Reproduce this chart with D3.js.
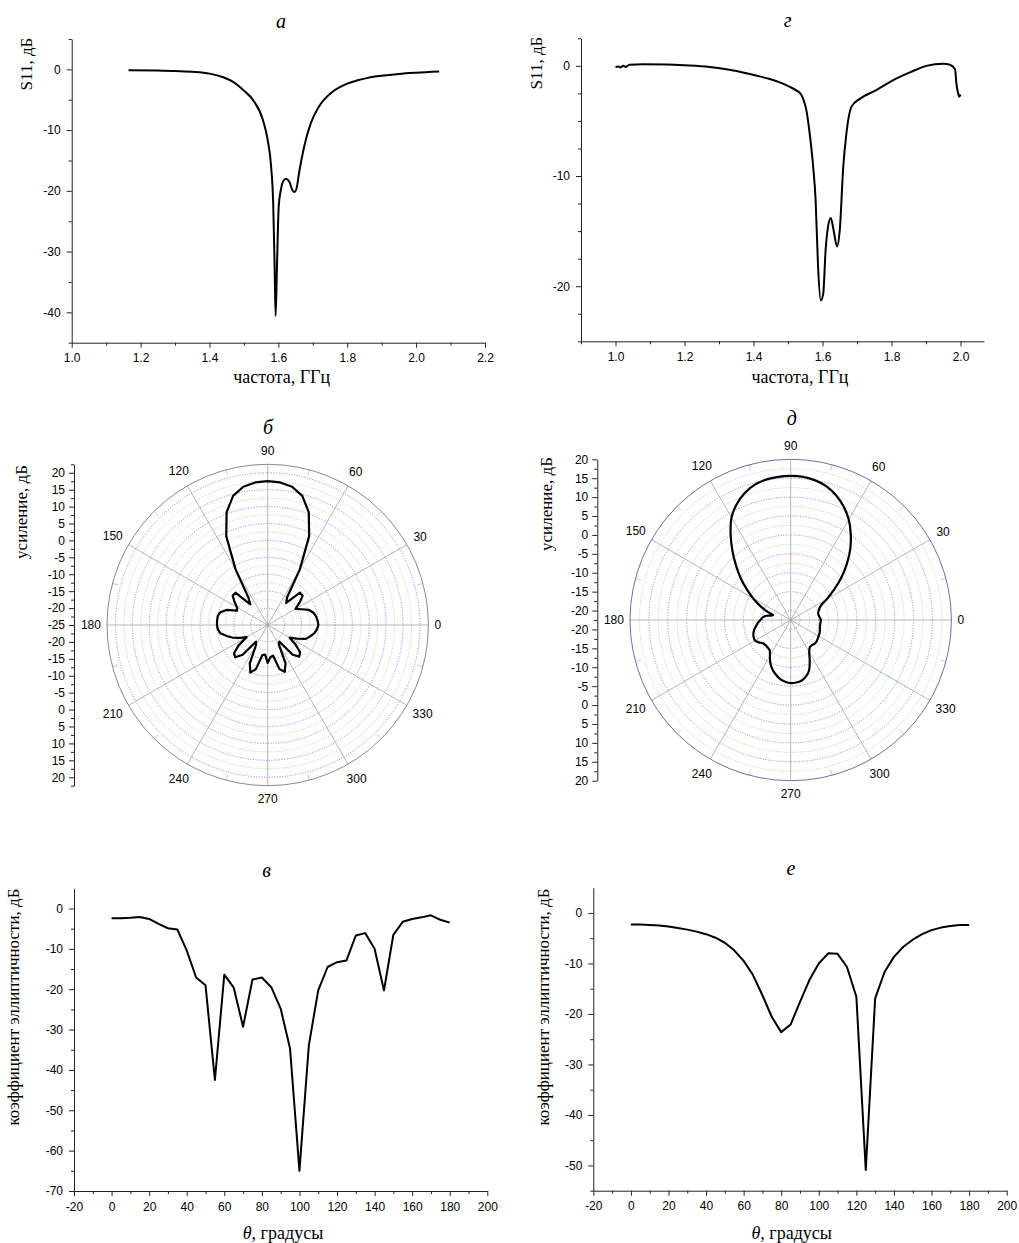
<!DOCTYPE html>
<html>
<head>
<meta charset="utf-8">
<script src="https://cdn.jsdelivr.net/npm/d3@7"></script>
<style>
  body { margin: 0; background: #fff; }
  svg { display: block; }
</style>
</head>
<body>
<script>
// а: S11 vs frequency (simulation)
const freqA = [1.165, 1.25, 1.3, 1.35, 1.4, 1.44, 1.47, 1.5, 1.526, 1.555, 1.569, 1.579, 1.585, 1.589, 1.592, 1.596, 1.601, 1.607, 1.614, 1.622, 1.632, 1.641, 1.647, 1.654, 1.66, 1.675, 1.694, 1.718, 1.757, 1.78, 1.8, 1.83, 1.86, 1.9, 1.95, 2.0, 2.067]
const s11A = [-0.15, -0.2, -0.25, -0.4, -0.7, -1.3, -2.1, -3.5, -5, -8.3, -11.6, -16, -22, -32, -40.6, -32.5, -22.6, -19.9, -18.4, -18.0, -18.5, -19.9, -20.2, -19.3, -17.1, -12.7, -8.9, -6.1, -3.7, -2.9, -2.35, -1.8, -1.4, -1.05, -0.75, -0.55, -0.35]

// г: S11 vs frequency (measured)
const freqG = [1.0, 1.008, 1.015, 1.022, 1.03, 1.04, 1.08, 1.15, 1.2, 1.273, 1.33, 1.369, 1.41, 1.447, 1.48, 1.505, 1.525, 1.538, 1.545, 1.553, 1.563, 1.573, 1.58, 1.587, 1.595, 1.602, 1.609, 1.616, 1.624, 1.632, 1.642, 1.65, 1.66, 1.669, 1.684, 1.708, 1.756, 1.805, 1.853, 1.901, 1.95, 1.969, 1.984, 1.988, 1.993, 1.996, 2.0]
const s11G = [-0.1, -0.05, -0.15, 0.0, -0.1, 0.1, 0.15, 0.12, 0.05, -0.1, -0.35, -0.6, -0.9, -1.2, -1.55, -1.9, -2.25, -2.6, -3.1, -4.0, -6.2, -9.2, -12.2, -18.2, -21.3, -20.7, -16.7, -14.6, -13.8, -14.9, -16.4, -14.9, -9.2, -6.2, -3.7, -3.0, -2.2, -1.3, -0.6, 0.0, 0.2, 0.1, -0.3, -1.6, -2.5, -2.8, -2.6]

// б, д: radiation patterns, angle step 5 degrees
const polarAngles = d3.range(0, 360, 5)
const gainB = [-10, -10.2, -10.5, -11, -12, -14, -15.5, -13.5, -11.5, -11.5, -16.5, -15, -6, 4, 10.5, 14.5, 16.5, 17.3,
  17.5, 17.3, 16.5, 14.5, 10.5, 4, -6, -15, -17, -11.5, -11.5, -13, -14.5, -15, -12, -10.5, -10, -10,
  -10, -10.2, -10.8, -12.5, -14, -16, -17.8, -14.5, -12, -11.5, -13.5, -19, -18, -12.5, -10, -11.5, -16, -16.2,
  -13.8, -15.5, -15.8, -11.5, -10.3, -12.5, -18.5, -19, -13.5, -11.8, -12.5, -15, -17.5, -15.5, -13, -12, -11, -10.4]
const gainD = [-14.5, -14.8, -15, -15, -14.5, -13.8, -11.5, -8.5, -5, -1.5, 2, 5.2, 8.2, 10.6, 12.6, 14.1, 15.0, 15.5,
  15.6, 15.5, 15.2, 14.5, 13.2, 11.3, 8.8, 5.2, 1.5, -2, -5.2, -8.3, -11, -13.5, -15.8, -17.7, -16, -15,
  -14.5, -13.8, -13.2, -12.5, -12, -11.7, -11.6, -12.2, -12.9, -13.1, -13, -12.8, -11.5, -9.8, -8.5, -7.5, -6.6, -6.1,
  -5.8, -5.9, -6.2, -7, -8.3, -10.6, -12.7, -13.7, -13.8, -13.6, -13.6, -13.8, -14, -14.1, -14.3, -14.5, -14.6, -14.6]

// в, е: axial ratio vs theta
const theta = d3.range(0, 181, 5)
const arV = [-2.4, -2.4, -2.3, -2.1, -2.6, -3.8, -4.9, -5.2, -10.4, -17.1, -19.0, -42.5, -16.4, -19.6, -29.3, -17.6, -17.1, -19.5, -24.8,
  -34.7, -65, -33.9, -20.3, -14.5, -13.3, -12.9, -6.7, -6.1, -10.0, -20.3, -6.5, -3.3, -2.6, -2.2, -1.7, -2.8, -3.5]
const arE = [-2.3, -2.3, -2.4, -2.5, -2.7, -3.0, -3.3, -3.7, -4.2, -4.9, -5.9, -7.4, -9.5, -12.3, -16.3, -20.6, -23.6, -22.1, -17.6,
  -13.3, -10.0, -8.0, -8.1, -10.7, -16.6, -50.9, -16.9, -11.7, -8.7, -6.7, -5.3, -4.2, -3.4, -2.9, -2.6, -2.4, -2.4]

// tick values
const freqTicksA = d3.range(1.0, 2.21, 0.2)
const freqTicksG = d3.range(1.0, 2.01, 0.2)
const thetaTicks = d3.range(-20, 201, 20)
const angleLabels = d3.range(0, 360, 30)

const sans = "'Liberation Sans', Arial, sans-serif"
const serif = "'Liberation Serif', 'Times New Roman', serif"

const svg = d3.select("body").append("svg")
  .attr("width", 1019)
  .attr("height", 1243)
  .attr("font-family", sans)

svg.append("rect").attr("width", 1019).attr("height", 1243).attr("fill", "#fff")

function styleAxis(a) {
  a.attr("font-family", sans).attr("font-size", 12)
  a.selectAll("text").attr("fill", "#000")
  a.selectAll("line").attr("stroke", "#222")
  a.select(".domain").attr("stroke", "#222")
}

function label(text, x, y, size, opts = {}) {
  const t = svg.append("text")
    .attr("x", x).attr("y", y)
    .attr("text-anchor", "middle")
    .attr("dominant-baseline", "central")
    .attr("font-family", serif)
    .attr("font-size", size)
    .attr("fill", "#000")
    .text(text)
  if (opts.italic) t.attr("font-style", "italic")
  if (opts.rotate) t.attr("transform", `rotate(-90,${x},${y})`)
  return t
}

function lineChart(o) {
  const x = d3.scaleLinear().domain(o.xDomain).range([o.left, o.right])
  const y = d3.scaleLinear().domain(o.yDomain).range([o.bottom, o.top])

  svg.append("g").attr("transform", `translate(0,${o.bottom})`)
    .call(d3.axisBottom(x).tickValues(o.xMinor).tickSize(3).tickFormat(""))
    .call(a => a.select(".domain").remove())
    .call(styleAxis)
  svg.append("g").attr("transform", `translate(0,${o.bottom})`)
    .call(d3.axisBottom(x).tickValues(o.xMajor).tickSize(5).tickSizeOuter(0).tickPadding(6).tickFormat(o.xFormat))
    .call(styleAxis)

  svg.append("g").attr("transform", `translate(${o.left},0)`)
    .call(d3.axisLeft(y).tickValues(o.yMinor).tickSize(3).tickFormat(""))
    .call(a => a.select(".domain").remove())
    .call(styleAxis)
  svg.append("g").attr("transform", `translate(${o.left},0)`)
    .call(d3.axisLeft(y).tickValues(o.yMajor).tickSize(5).tickSizeOuter(0).tickPadding(6).tickFormat(d => String(d)))
    .call(styleAxis)

  svg.append("path")
    .datum(d3.zip(o.xs, o.ys))
    .attr("fill", "none")
    .attr("stroke", "#000")
    .attr("stroke-width", 2)
    .attr("stroke-linejoin", "round")
    .attr("d", d3.line().x(d => x(d[0])).y(d => y(d[1])).curve(o.curve))

  label(o.title, o.titlePos[0], o.titlePos[1], 20, { italic: true })
  label(o.ylabel, o.ylabelPos[0], o.ylabelPos[1], 17, { rotate: true })
  if (o.xlabelNode) o.xlabelNode(o.xlabelPos)
  else label(o.xlabel, o.xlabelPos[0], o.xlabelPos[1], 18)
}

function polarChart(o) {
  const r = d3.scaleLinear().domain(o.rDomain).range([0, o.R])
  const rad = d => d * Math.PI / 180
  const g = svg.append("g").attr("transform", `translate(${o.cx},${o.cy})`)

  // dotted rings every 2.5 dB
  const rings = d3.range(o.rDomain[0] + 2.5, o.rDomain[1] - 0.01, 2.5)
  g.selectAll("circle.ring").data(rings).join("circle")
    .attr("r", d => r(d))
    .attr("fill", "none")
    .attr("stroke", d => Math.abs(d % 5) < 1e-6 ? "#7373d9" : "#93d693")
    .attr("stroke-width", 0.9)
    .attr("stroke-dasharray", "1,1.6")

  // spokes
  g.selectAll("line.spoke").data(angleLabels).join("line")
    .attr("x1", 0).attr("y1", 0)
    .attr("x2", d => o.R * Math.cos(rad(d)))
    .attr("y2", d => -o.R * Math.sin(rad(d)))
    .attr("stroke", "#a3a3a3")
    .attr("stroke-width", 0.8)

  // minor ticks on rim
  g.selectAll("line.rim").data(d3.range(15, 360, 30)).join("line")
    .attr("x1", d => (o.R - 6) * Math.cos(rad(d)))
    .attr("y1", d => -(o.R - 6) * Math.sin(rad(d)))
    .attr("x2", d => o.R * Math.cos(rad(d)))
    .attr("y2", d => -o.R * Math.sin(rad(d)))
    .attr("stroke", "#bbb")
    .attr("stroke-width", 0.8)

  g.append("circle")
    .attr("r", o.R)
    .attr("fill", "none")
    .attr("stroke", o.rimColor)
    .attr("stroke-width", 1)

  g.append("path")
    .datum(d3.zip(o.angles, o.gains))
    .attr("fill", "none")
    .attr("stroke", "#000")
    .attr("stroke-width", 2.2)
    .attr("stroke-linejoin", "round")
    .attr("d", d3.lineRadial()
      .angle(d => rad(90 - d[0]))
      .radius(d => r(d[1]))
      .curve(o.curve))

  // angle labels
  const labelDist = d => o.R + 6 + String(d).length * 3.35 * Math.abs(Math.cos(rad(d))) + 7 * Math.abs(Math.sin(rad(d)))
  g.selectAll("text.ang").data(angleLabels).join("text")
    .attr("font-size", 12)
    .attr("fill", "#000")
    .attr("text-anchor", "middle")
    .attr("dominant-baseline", "central")
    .attr("x", d => labelDist(d) * Math.cos(rad(d)))
    .attr("y", d => -labelDist(d) * Math.sin(rad(d)))
    .text(d => d)

  // mirrored radial axis on the left
  const up = d3.scaleLinear().domain(o.rDomain).range([o.cy, o.cy - o.R])
  const lo = d3.scaleLinear().domain(o.rDomain).range([o.cy, o.cy + o.R])
  const minor = d3.range(o.rDomain[0], o.rDomain[1] + 0.01, 2.5).filter(v => !o.rMajor.includes(v))
  for (const [s, majors] of [[up, o.rMajor], [lo, o.rMajor.filter(v => v !== o.rDomain[0])]]) {
    svg.append("g").attr("transform", `translate(${o.axisX},0)`)
      .call(d3.axisLeft(s).tickValues(minor).tickSize(3).tickFormat(""))
      .call(a => a.select(".domain").remove())
      .call(styleAxis)
    svg.append("g").attr("transform", `translate(${o.axisX},0)`)
      .call(d3.axisLeft(s).tickValues(majors).tickSize(5).tickSizeOuter(0).tickPadding(4).tickFormat(d => String(d)))
      .call(styleAxis)
  }

  label(o.title, o.titlePos[0], o.titlePos[1], 20, { italic: true })
  label("усиление, дБ", o.ylabelPos[0], o.ylabelPos[1], 17, { rotate: true })
}

function thetaLabel(pos) {
  const t = svg.append("text")
    .attr("x", pos[0]).attr("y", pos[1])
    .attr("text-anchor", "middle")
    .attr("dominant-baseline", "central")
    .attr("font-family", serif)
    .attr("font-size", 18)
  t.append("tspan").attr("font-style", "italic").text("θ")
  t.append("tspan").text(", градусы")
}

// а
lineChart({
  left: 71.7, right: 485, top: 39, bottom: 342.7,
  xDomain: [1.0, 2.2], yDomain: [-45, 5],
  xMajor: freqTicksA, xMinor: d3.range(1.1, 2.2, 0.2), xFormat: d3.format(".1f"),
  yMajor: [0, -10, -20, -30, -40], yMinor: [5, -5, -15, -25, -35, -45],
  xs: freqA, ys: s11A, curve: d3.curveMonotoneX,
  title: "а", titlePos: [281, 21],
  ylabel: "S11, дБ", ylabelPos: [26, 64],
  xlabel: "частота, ГГц", xlabelPos: [281.7, 377]
})

// г
lineChart({
  left: 581, right: 984, top: 38.3, bottom: 341.3,
  xDomain: [0.9, 2.068], yDomain: [-25, 2.5],
  xMajor: freqTicksG, xMinor: d3.range(0.9, 2.0, 0.2), xFormat: d3.format(".1f"),
  yMajor: [0, -10, -20], yMinor: d3.range(2.5, -25.1, -2.5).filter(v => v % 10 !== 0),
  xs: freqG, ys: s11G, curve: d3.curveMonotoneX,
  title: "г", titlePos: [787.7, 20],
  ylabel: "S11, дБ", ylabelPos: [536, 63],
  xlabel: "частота, ГГц", xlabelPos: [800, 377]
})

// б
polarChart({
  cx: 267.7, cy: 625, R: 160.7, rDomain: [-25, 22.5], rMajor: d3.range(-25, 20.1, 5),
  angles: polarAngles, gains: gainB, curve: d3.curveLinearClosed,
  rimColor: "#8a8a8a", axisX: 74,
  title: "б", titlePos: [268, 427], ylabelPos: [21, 512]
})

// д
polarChart({
  cx: 790.7, cy: 620, R: 160.7, rDomain: [-22.5, 20], rMajor: d3.range(-20, 20.1, 5),
  angles: polarAngles, gains: gainD, curve: d3.curveCatmullRomClosed.alpha(0.5),
  rimColor: "#6c6cb0", axisX: 597.3,
  title: "д", titlePos: [791.7, 418], ylabelPos: [546, 504]
})

// в
lineChart({
  left: 74, right: 487.3, top: 888.3, bottom: 1191,
  xDomain: [-20, 200], yDomain: [-70, 5],
  xMajor: thetaTicks, xMinor: d3.range(-10, 200, 20), xFormat: d => String(d),
  yMajor: d3.range(0, -70.1, -10), yMinor: d3.range(-5, -70, -10),
  xs: theta, ys: arV, curve: d3.curveLinear,
  title: "в", titlePos: [266.7, 870],
  ylabel: "коэффициент эллиптичности, дБ", ylabelPos: [13.5, 1007],
  xlabelNode: thetaLabel, xlabelPos: [283, 1233]
})

// е
lineChart({
  left: 593.3, right: 1006.7, top: 887.7, bottom: 1190.7,
  xDomain: [-20, 200], yDomain: [-55, 5],
  xMajor: thetaTicks, xMinor: d3.range(-10, 200, 20), xFormat: d => String(d),
  yMajor: d3.range(0, -50.1, -10), yMinor: d3.range(-5, -55.1, -10),
  xs: theta, ys: arE, curve: d3.curveLinear,
  title: "е", titlePos: [791, 868],
  ylabel: "коэффициент эллиптичности, дБ", ylabelPos: [543.5, 1007],
  xlabelNode: thetaLabel, xlabelPos: [791.7, 1233]
})
</script>
</body>
</html>
